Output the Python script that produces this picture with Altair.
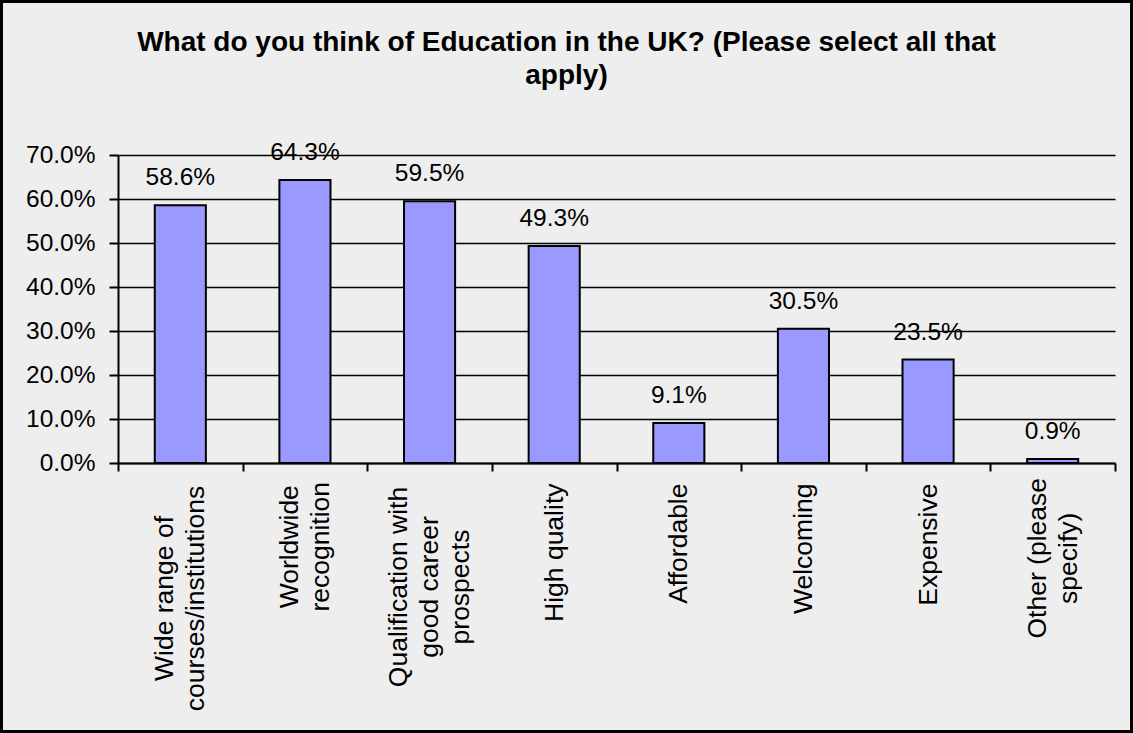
import altair as alt
import pandas as pd

categories = [
    "Wide range of|courses/institutions",
    "Worldwide|recognition",
    "Qualification with|good career|prospects",
    "High quality",
    "Affordable",
    "Welcoming",
    "Expensive",
    "Other (please|specify)",
]
values = [0.586, 0.643, 0.595, 0.493, 0.091, 0.305, 0.235, 0.009]

df = pd.DataFrame({"cat": categories, "val": values})

FONT = "Liberation Sans"
W, H = 997, 308
PL, PT = 118, 155
LH = 31

S = "split(datum.value, '|')"
NLINES = f"length({S})"
MAXLEN = (
    f"max(length({S}[0]), length({S}[1] || ''), length({S}[2] || ''))"
)

xenc = alt.X(
    "cat:N",
    sort=categories,
    scale=alt.Scale(paddingInner=0, paddingOuter=0),
    axis=alt.Axis(
        title=None,
        labelExpr="split(datum.label, '|')",
        labelAngle=270,
        labelAlign=alt.ExprRef(f"{NLINES} > 1 ? 'center' : 'right'"),
        labelBaseline="middle",
        labelFontSize=26.5,
        labelFont=FONT,
        labelColor="black",
        labelLineHeight=LH,
        labelPadding=alt.ExprRef(f"{NLINES} > 1 ? 12 + {MAXLEN} * 5.75 : 12"),
        labelOffset=alt.ExprRef(f"-({NLINES} - 1) * {LH / 2}"),
        tickBand="extent",
        tickSize=8,
        tickColor="black",
        tickWidth=2,
        domainColor="black",
        domainWidth=2,
        grid=False,
        labelLimit=0,
    ),
)

yenc = alt.Y(
    "val:Q",
    scale=alt.Scale(domain=[0, 0.7]),
    axis=alt.Axis(
        title=None,
        format=".1%",
        values=[0, 0.1, 0.2, 0.3, 0.4, 0.5, 0.6, 0.7],
        labelFontSize=24.5,
        labelFont=FONT,
        labelColor="black",
        labelPadding=14,
        tickSize=9,
        tickColor="black",
        tickWidth=2,
        domainColor="black",
        domainWidth=2,
        grid=True,
        gridColor="black",
        gridWidth=1.5,
        gridOpacity=1,
    ),
)

bars = alt.Chart(df).mark_bar(
    width={"band": 0.41}, color="#9999FF", stroke="black", strokeWidth=2
).encode(x=xenc, y=yenc)

labels = alt.Chart(df).mark_text(
    baseline="alphabetic", dy=-20, fontSize=24.5, font=FONT, color="black"
).encode(
    x=alt.X("cat:N", sort=categories),
    y="val:Q",
    text=alt.Text("val:Q", format=".1%"),
)

border = alt.Chart(df).mark_rect(
    fill=None, stroke="black", strokeWidth=3, clip=False
).encode(
    x=alt.value(-PL + 1), x2=alt.value(1133 - PL - 1),
    y=alt.value(-PT + 1), y2=alt.value(733 - PT - 1),
)

chart = alt.layer(bars, labels, border).properties(
    width=W,
    height=H,
    title=alt.TitleParams(
        text=["What do you think of Education in the UK? (Please select all that", "apply)"],
        font=FONT,
        fontSize=28,
        fontWeight="bold",
        color="black",
        anchor="middle",
        frame="bounds",
        offset=-90,
        lineHeight=33,
    ),
    padding={"left": PL, "top": PT, "right": 1133 - PL - W, "bottom": 733 - PT - H},
    autosize=alt.AutoSizeParams(type="none"),
    background="#eeeeee",
).configure_view(stroke=None)

chart.save("out.html", embed_options={"renderer": "svg", "actions": False})
